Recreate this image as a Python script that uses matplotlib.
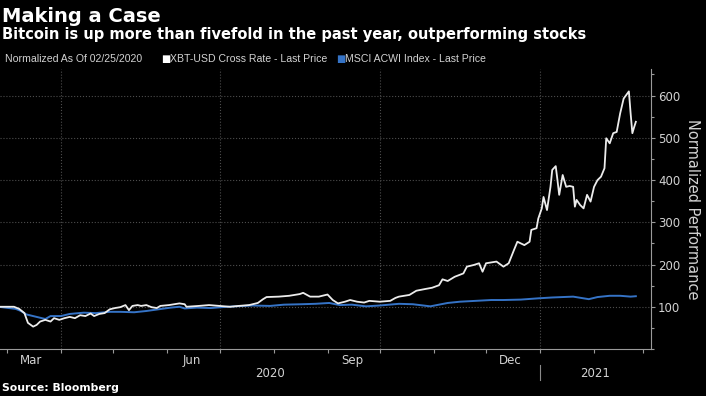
"""Bitcoin vs MSCI ACWI, normalized performance (Bloomberg-style dark chart)."""

import pandas as pd
import matplotlib
matplotlib.use('Agg')
import matplotlib.pyplot as plt
import matplotlib.dates as mdates
from matplotlib.ticker import MultipleLocator

# XBT-USD normalized to 100 at 02/25/2020
btc_dates = [
    '2020-02-25', '2020-03-05', '2020-03-08', '2020-03-11', '2020-03-13', '2020-03-16',
    '2020-03-18', '2020-03-20', '2020-03-23', '2020-03-26', '2020-03-28', '2020-03-31',
    '2020-04-03', '2020-04-06', '2020-04-09', '2020-04-12', '2020-04-15', '2020-04-18',
    '2020-04-20', '2020-04-23', '2020-04-26', '2020-04-29', '2020-05-02', '2020-05-05',
    '2020-05-08', '2020-05-10', '2020-05-12', '2020-05-15', '2020-05-17', '2020-05-20',
    '2020-05-23', '2020-05-26', '2020-05-28', '2020-06-02', '2020-06-08', '2020-06-11',
    '2020-06-12', '2020-06-19', '2020-06-25', '2020-07-01', '2020-07-07', '2020-07-12',
    '2020-07-18', '2020-07-23', '2020-07-26', '2020-07-28', '2020-08-04', '2020-08-10',
    '2020-08-16', '2020-08-18', '2020-08-22', '2020-08-27', '2020-09-01', '2020-09-04',
    '2020-09-07', '2020-09-11', '2020-09-14', '2020-09-18', '2020-09-22', '2020-09-25',
    '2020-10-01', '2020-10-07', '2020-10-10', '2020-10-12', '2020-10-18', '2020-10-22',
    '2020-10-27', '2020-10-31', '2020-11-04', '2020-11-06', '2020-11-09', '2020-11-13',
    '2020-11-18', '2020-11-20', '2020-11-24', '2020-11-27', '2020-11-29', '2020-12-01',
    '2020-12-07', '2020-12-11', '2020-12-14', '2020-12-17', '2020-12-19', '2020-12-23',
    '2020-12-26', '2020-12-27', '2020-12-30', '2020-12-31', '2021-01-02', '2021-01-03',
    '2021-01-05', '2021-01-07', '2021-01-08', '2021-01-10', '2021-01-11', '2021-01-12',
    '2021-01-14', '2021-01-16', '2021-01-18', '2021-01-20', '2021-01-21', '2021-01-22',
    '2021-01-24', '2021-01-26', '2021-01-28', '2021-01-30', '2021-02-01', '2021-02-03',
    '2021-02-05', '2021-02-07', '2021-02-08', '2021-02-10', '2021-02-12', '2021-02-14',
    '2021-02-16', '2021-02-18', '2021-02-21', '2021-02-22', '2021-02-23', '2021-02-24',
    '2021-02-25',
]
btc_values = [
    100, 100, 95, 85, 62, 53,
    57, 65, 69, 65, 73, 69,
    73, 76, 73, 80, 78, 84,
    78, 83, 85, 94, 97, 99,
    104, 92, 102, 104, 102, 104,
    99, 97, 102, 104, 108, 106,
    100, 102, 104, 102, 100, 102,
    104, 109, 118, 123, 124, 126,
    130, 133, 124, 124, 129, 116,
    108, 112, 116, 112, 110, 114,
    112, 114, 121, 124, 128, 138,
    142, 145, 151, 165, 161, 171,
    179, 195, 199, 203, 183, 203,
    207, 195, 203, 234, 254, 246,
    254, 282, 286, 309, 333, 360,
    329, 384, 424, 433, 400, 365,
    412, 384, 386, 384, 337, 353,
    341, 333, 365, 349, 384, 400,
    408, 428, 499, 487, 511, 514,
    558, 593, 610, 558, 511, 525,
    538,
]

# MSCI ACWI normalized to 100 at 02/25/2020
msci_dates = [
    '2020-02-25', '2020-03-02', '2020-03-06', '2020-03-09', '2020-03-12', '2020-03-16',
    '2020-03-20', '2020-03-23', '2020-03-26', '2020-04-01', '2020-04-06', '2020-04-14',
    '2020-04-21', '2020-04-29', '2020-05-05', '2020-05-13', '2020-05-20', '2020-05-27',
    '2020-06-03', '2020-06-08', '2020-06-11', '2020-06-18', '2020-06-26', '2020-07-02',
    '2020-07-10', '2020-07-20', '2020-07-30', '2020-08-07', '2020-08-17', '2020-08-25',
    '2020-09-02', '2020-09-08', '2020-09-15', '2020-09-23', '2020-10-01', '2020-10-12',
    '2020-10-20', '2020-10-30', '2020-11-09', '2020-11-16', '2020-11-25', '2020-12-04',
    '2020-12-11', '2020-12-21', '2020-12-31', '2021-01-08', '2021-01-20', '2021-01-29',
    '2021-02-03', '2021-02-10', '2021-02-16', '2021-02-22', '2021-02-25',
]
msci_values = [
    100, 97, 95, 90, 82, 78,
    74, 71, 78, 78, 83, 86,
    85, 88, 88, 87, 90, 94,
    98, 100, 96, 98, 97, 99,
    101, 103, 102, 105, 106, 107,
    109, 104, 105, 101, 103, 107,
    106, 101, 109, 112, 114, 116,
    116, 117, 120, 122, 124, 118,
    123, 126, 126, 124, 125,
]

month_labels = ['Mar', 'Jun', 'Sep', 'Dec']
month_label_dates = ['2020-03-15', '2020-06-15', '2020-09-15', '2020-12-15']
year_labels = ['2020', '2021']

BG = '#000000'
TXT = '#d2d2d2'
GRID = '#4d4d4d'
WHITE_LINE = '#ececec'
BLUE_LINE = '#3573c6'

W, H = 706, 396
fig = plt.figure(figsize=(W / 100, H / 100), dpi=100, facecolor=BG)
ax = fig.add_axes([0, 47 / H, 651 / W, 280 / H], facecolor=BG)

btc_x = pd.to_datetime(btc_dates)
msci_x = pd.to_datetime(msci_dates)
ax.plot(msci_x, msci_values, color=BLUE_LINE, linewidth=1.4, zorder=3)
ax.plot(btc_x, btc_values, color=WHITE_LINE, linewidth=1.3, zorder=4)

start = pd.Timestamp('2020-02-25')
x_lo = start + pd.Timedelta(days=0.98)
x_hi = start + pd.Timedelta(days=374.7)
ax.set_xlim(x_lo, x_hi)
ax.set_ylim(0, 663)

# y axis on the right
ax.yaxis.tick_right()
ax.yaxis.set_label_position('right')
ax.set_yticks([100, 200, 300, 400, 500, 600])
ax.yaxis.set_minor_locator(MultipleLocator(50))
ax.tick_params(axis='y', which='major', colors='#9a9a9a', labelcolor=TXT,
               labelsize=8.5, length=3, width=0.8, pad=2)
ax.tick_params(axis='y', which='minor', colors='#9a9a9a', length=2, width=0.8)
ax.set_ylabel('Normalized Performance', rotation=270, color=TXT, fontsize=10.5,
              labelpad=14)

# x axis: quarter gridlines, month ticks, labels placed as text
ax.xaxis.set_major_locator(mdates.MonthLocator(bymonth=[1, 4, 7, 10]))
ax.xaxis.set_minor_locator(mdates.MonthLocator())
ax.xaxis.set_major_formatter(plt.NullFormatter())
ax.tick_params(axis='x', which='both', colors='#9a9a9a', length=3, width=0.8)

ax.grid(True, which='major', axis='both', color=GRID, linestyle=':', linewidth=0.8)
ax.set_axisbelow(True)

for side in ['left', 'top']:
    ax.spines[side].set_visible(False)
for side in ['right', 'bottom']:
    ax.spines[side].set_color('#9a9a9a')
    ax.spines[side].set_linewidth(0.8)

xt = ax.get_xaxis_transform()
for lbl, d in zip(month_labels, month_label_dates):
    ax.text(pd.Timestamp(d), -0.04, lbl, transform=xt, ha='center', va='center',
            color=TXT, fontsize=8.5, clip_on=False)

year_split = pd.Timestamp('2021-01-01')
year_mids = [x_lo + (year_split - x_lo) / 2, year_split + (x_hi - year_split) / 2]
for lbl, d in zip(year_labels, year_mids):
    ax.text(d, -0.088, lbl, transform=xt, ha='center', va='center',
            color=TXT, fontsize=8.5, clip_on=False)
ax.plot([year_split, year_split], [-0.057, -0.111], transform=xt, color='#8a8a8a',
        linewidth=0.8, clip_on=False)

# titles
fig.text(2 / W, 1 - 22 / H, 'Making a Case', color='white', fontsize=14,
         fontweight='bold', va='baseline', ha='left')
fig.text(2 / W, 1 - 39 / H, 'Bitcoin is up more than fivefold in the past year, outperforming stocks',
         color='white', fontsize=10.5, fontweight='bold', va='baseline', ha='left')

# legend row
leg_font = 'Liberation Sans'
leg_y = 1 - 62 / H
fig.text(5 / W, leg_y, 'Normalized As Of 02/25/2020', color=TXT, fontsize=7.6,
         family=leg_font, va='baseline')
fig.text(161 / W, leg_y, '\u25a0', color='white', fontsize=7, family='DejaVu Sans',
         va='baseline')
fig.text(170 / W, leg_y, 'XBT-USD Cross Rate - Last Price', color=TXT, fontsize=7.6,
         family=leg_font, va='baseline')
fig.text(336 / W, leg_y, '\u25a0', color=BLUE_LINE, fontsize=7, family='DejaVu Sans',
         va='baseline')
fig.text(345 / W, leg_y, 'MSCI ACWI Index - Last Price', color=TXT, fontsize=7.6,
         family=leg_font, va='baseline')

fig.text(2 / W, 1 - 391 / H, 'Source: Bloomberg', color='white', fontsize=7.8,
         fontweight='bold', va='baseline')

fig.savefig('out.png', dpi=100, facecolor=BG)
